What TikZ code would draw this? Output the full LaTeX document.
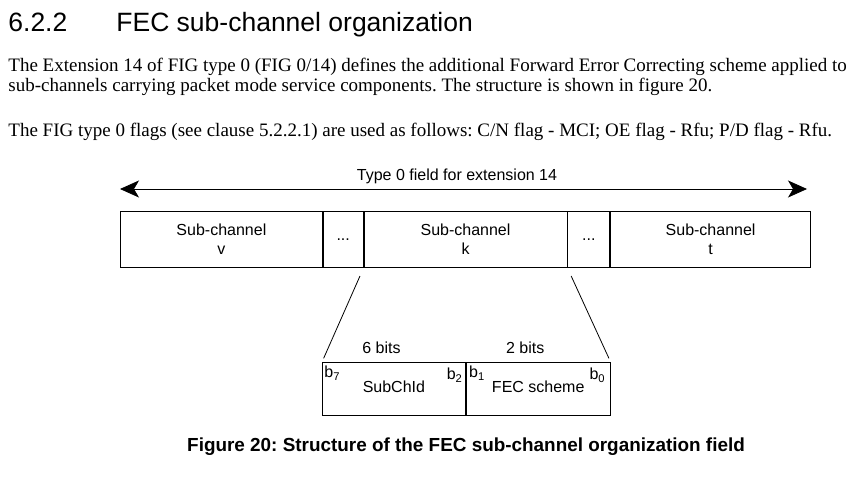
\documentclass[tikz,border=0pt]{standalone}
\usepackage{fontspec}
\setmainfont{Liberation Serif}
\setsansfont{Liberation Sans}
\usetikzlibrary{positioning,arrows.meta}
\frenchspacing

\begin{document}
\begin{tikzpicture}[x=1pt,y=-1pt,line width=0.8pt,
  field/.style={draw,minimum height=56pt,inner sep=0pt,align=center,anchor=north west,
    font=\sffamily\fontsize{16}{19}\selectfont},
  bitbox/.style={draw,minimum height=53pt,inner sep=0pt,anchor=north west},
  lbl/.style={inner sep=0pt,font=\sffamily\fontsize{16}{19}\selectfont},
  para/.style={inner sep=0pt,anchor=base west,font=\fontsize{19}{21}\selectfont},
  head/.style={inner sep=0pt,anchor=base west,font=\sffamily\fontsize{26.5}{30}\selectfont}]
\useasboundingbox (0,0) rectangle (858,476);
\node[head] (secno) at (8,32) {6.2.2};
\node[head] (sectitle) at (116,32) {FEC sub-channel organization};
\node[para] (pa) at (8,72) {The Extension 14 of FIG type 0 (FIG 0/14) defines the additional Forward Error Correcting scheme applied to};
\node[para] (pb) at (8,92) {sub-channels carrying packet mode service components. The structure is shown in figure 20.};
\node[para] (pc) at (8,136) {The FIG type 0 flags (see clause 5.2.2.1) are used as follows: C/N flag - MCI; OE flag - Rfu; P/D flag - Rfu.};

\coordinate (al) at (120,189);
\coordinate (ar) at (807,189);
\draw[{Stealth[length=19pt,width=17pt,inset=5pt]}-{Stealth[length=19pt,width=17pt,inset=5pt]}] (al) -- (ar);
\node[lbl,anchor=base] (typelbl) at (457,180) {Type 0 field for extension 14};

\node[field,minimum width=202pt] (chv) at (120,211) {Sub-channel\\v};
\node[field,minimum width=40pt] (dotsa) at (chv.north east) {...};
\node[field,minimum width=203pt] (chk) at (dotsa.north east) {Sub-channel\\k};
\node[field,minimum width=42pt] (dotsb) at (chk.north east) {...};
\node[field,minimum width=200pt] (cht) at (dotsb.north east) {Sub-channel\\t};

\node[bitbox,minimum width=143pt] (subchid) at (322,362) {};
\node[bitbox,minimum width=144pt] (fec) at (subchid.north east) {};
\draw[shorten <=9pt,shorten >=4pt] (chk.south west) -- (subchid.north west);
\draw[shorten <=9pt,shorten >=4pt] (chk.south east) -- (fec.north east);

\node[lbl,anchor=base] (sixbits) at ([xshift=-12.5pt,yshift=9pt]subchid.north) {6 bits};
\node[lbl,anchor=base] (twobits) at ([xshift=-13pt,yshift=9pt]fec.north) {2 bits};
\node[lbl,anchor=base] (subchidl) at ([yshift=-30pt]subchid.north) {SubChId};
\node[lbl,anchor=base] (fecl) at ([yshift=-30pt]fec.north) {FEC scheme};
\node[lbl,anchor=north west] (bseven) at ([xshift=2pt,yshift=-4pt]subchid.north west) {b\textsubscript{7}};
\node[lbl,anchor=north east] (btwo) at ([xshift=-3pt,yshift=-6pt]subchid.north east) {b\textsubscript{2}};
\node[lbl,anchor=north west] (bone) at ([xshift=3pt,yshift=-4pt]fec.north west) {b\textsubscript{1}};
\node[lbl,anchor=north east] (bzero) at ([xshift=-5pt,yshift=-6pt]fec.north east) {b\textsubscript{0}};

\node[inner sep=0pt,anchor=base,font=\sffamily\bfseries\fontsize{18.9}{22}\selectfont] (caption) at (466,451) {Figure 20: Structure of the FEC sub-channel organization field};
\end{tikzpicture}
\end{document}
